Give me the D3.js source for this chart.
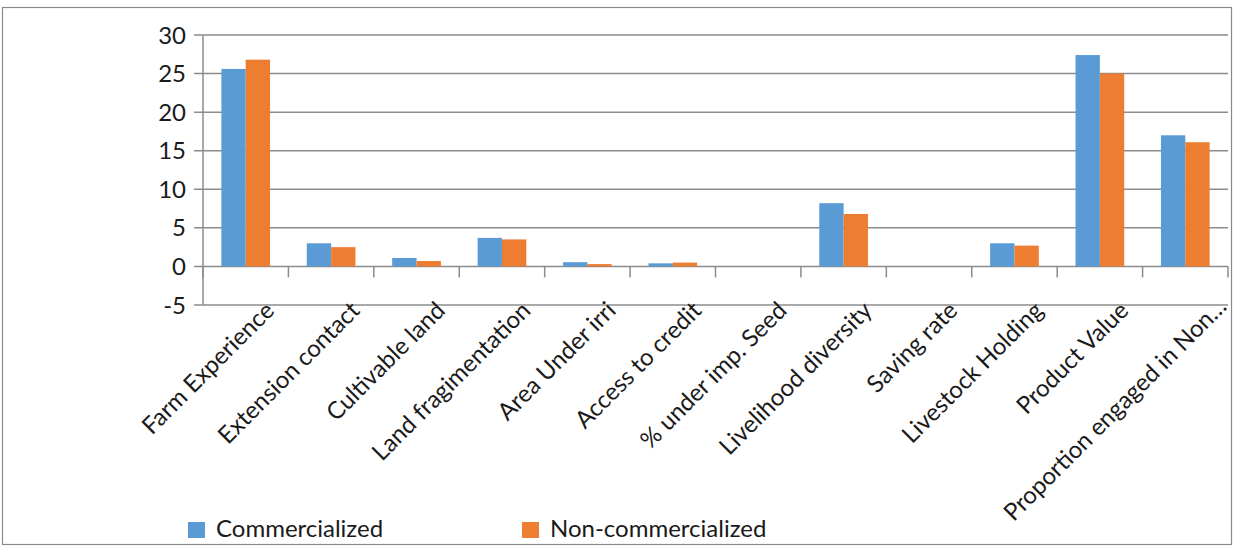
<!DOCTYPE html>
<html>
<head>
<meta charset="utf-8">
<script src="https://cdn.jsdelivr.net/npm/d3@7"></script>
<style>
  body { margin: 0; background: #fff; }
  text { font-family: Lato, "Open Sans", sans-serif; fill: #1a1a1a; }
</style>
</head>
<body>
<svg id="chart" width="1235" height="547"></svg>
<script>
// categories and the two series
var categories = ["Farm Experience", "Extension contact", "Cultivable land", "Land fragimentation",
  "Area Under irri", "Access to credit", "% under imp. Seed", "Livelihood diversity",
  "Saving rate", "Livestock Holding", "Product Value", "Proportion engaged in Non\u2026"];
var seriesNames = ["Commercialized", "Non-commercialized"];
var commercialized = [25.6, 3.0, 1.1, 3.7, 0.55, 0.4, 0, 8.2, 0, 3.0, 27.4, 17.0];
var nonCommercialized = [26.8, 2.5, 0.7, 3.5, 0.3, 0.5, 0, 6.8, 0, 2.7, 25.0, 16.1];
var yTicks = [-5, 0, 5, 10, 15, 20, 25, 30];
var colors = ["#5b9bd5", "#ed7d31"];

(function () {
  "use strict";
  var svg = d3.select('#chart');
  var left = 203, right = 1228, top = 35, bottom = 305;

  // outer frame
  svg.append('rect')
    .attr('x', 2.5).attr('y', 7.5).attr('width', 1229).attr('height', 537)
    .attr('fill', 'none').attr('stroke', '#8a8a8a').attr('stroke-width', 1.2);

  var x0 = d3.scaleBand().domain(categories).range([left, right])
    .paddingInner(0.43).paddingOuter(0.215);
  var x1 = d3.scaleBand().domain(seriesNames).range([0, x0.bandwidth()]);
  var y = d3.scaleLinear().domain([-5, 30]).range([bottom, top]);

  // gridlines with short outer ticks
  svg.append('g')
    .selectAll('line').data(yTicks).enter().append('line')
    .attr('x1', left - 9).attr('x2', right)
    .attr('y1', function (d) { return y(d); }).attr('y2', function (d) { return y(d); })
    .attr('stroke', '#8c8c8c').attr('stroke-width', 1.5);

  svg.append('line')
    .attr('x1', left).attr('x2', left).attr('y1', top).attr('y2', bottom)
    .attr('stroke', '#8c8c8c').attr('stroke-width', 1.5);

  svg.append('g').selectAll('text').data(yTicks).enter().append('text')
    .attr('x', left - 17).attr('y', function (d) { return y(d); })
    .attr('dy', '0.36em').attr('text-anchor', 'end')
    .style('font-size', '24px')
    .text(function (d) { return d; });

  // bars
  var series = [commercialized, nonCommercialized];
  series.forEach(function (vals, si) {
    svg.append('g').selectAll('rect').data(vals).enter().append('rect')
      .attr('x', function (d, i) { return x0(categories[i]) + x1(seriesNames[si]); })
      .attr('width', x1.bandwidth())
      .attr('y', function (d) { return y(Math.max(0, d)); })
      .attr('height', function (d) { return Math.abs(y(d) - y(0)); })
      .attr('fill', colors[si]);
  });

  // category boundary ticks on the zero line
  var bounds = d3.range(categories.length + 1).map(function (k) { return left + k * x0.step(); });
  svg.append('g').selectAll('line').data(bounds).enter().append('line')
    .attr('x1', function (d) { return d; }).attr('x2', function (d) { return d; })
    .attr('y1', y(0)).attr('y2', y(0) + 11)
    .attr('stroke', '#8c8c8c').attr('stroke-width', 1.5);

  // rotated category labels (the last one is pushed to the frame edge, as in the original)
  var last = categories.length - 1;
  svg.append('g').selectAll('text').data(categories).enter().append('text')
    .attr('transform', function (d, i) {
      var cx = i === last ? 1228 : x0(d) + x0.bandwidth() / 2 + 30;
      var cy = i === last ? 308 : 312;
      return 'translate(' + cx + ',' + cy + ') rotate(-45)';
    })
    .attr('text-anchor', 'end')
    .style('font-size', '24px')
    .text(function (d) { return d; });

  // legend
  var legendX = [188, 522];
  seriesNames.forEach(function (name, i) {
    svg.append('rect')
      .attr('x', legendX[i]).attr('y', 522).attr('width', 17).attr('height', 16)
      .attr('fill', colors[i]);
    svg.append('text')
      .attr('x', legendX[i] + 28).attr('y', 537)
      .style('font-size', '24px')
      .text(name);
  });
}());
</script>
</body>
</html>
